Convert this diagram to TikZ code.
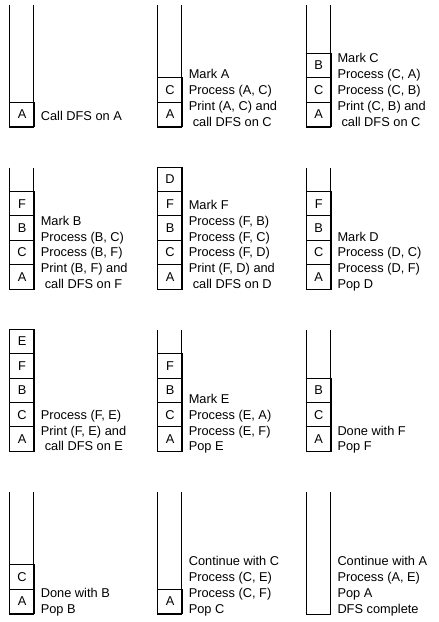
\documentclass[tikz,border=0pt]{standalone}
\usepackage{fontspec}
\setmainfont{Liberation Sans}
\newcommand\notefont{\fontsize{12.8}{15.8}\selectfont}
\newcommand\notelines[1]{\begin{tabular}[b]{@{}l@{}}#1\end{tabular}}
\newcommand\ind{\hspace*{4pt}}
\tikzset{
  stackline/.style={line width=1pt, line join=miter},
  cell/.style={draw, line width=1pt, minimum width=24.5pt, minimum height=24.4pt,
    inner sep=0pt, anchor=south west, font=\notefont},
  note/.style={inner sep=0pt, anchor=base west, font=\notefont},
}
% #1 name, #2 left x, #3 bottom y
\newcommand\dfsframe[3]{%
  \coordinate (#1-tl) at (#2,#3-122);
  \coordinate (#1-bl) at (#2,#3);
  \coordinate (#1-br) at (#2+24.5,#3);
  \coordinate (#1-tr) at (#2+24.5,#3-122);
  \draw[stackline] (#1-tl) -- (#1-bl) -- (#1-br) -- (#1-tr);
}
% #1 name, #2 left x, #3 bottom y, #4 letters (bottom first)
\newcommand\dfsstack[4]{%
  \dfsframe{#1}{#2}{#3}
  \foreach \L [count=\i from 0] in {#4} {
    \node[cell] (#1-c\i) at (#2,#3-\i*24.4) {\L};
  }
}
\begin{document}
\begin{tikzpicture}[x=1pt,y=-1pt]
\useasboundingbox (0,0) rectangle (439,622);
% ---------- row 1 ----------
\dfsstack{s11}{9.3}{127}{A}
\node[note] (t11) at (40.6,120.5) {\notelines{Call DFS on A}};
\dfsstack{s12}{157.3}{127}{A,C}
\node[note] (t12) at (188.6,126) {\notelines{Mark A\\Process (A, C)\\Print (A, C) and\\\ind call DFS on C}};
\dfsstack{s13}{306}{127}{A,C,B}
\node[note] (t13) at (337.3,126) {\notelines{Mark C\\Process (C, A)\\Process (C, B)\\Print (C, B) and\\\ind call DFS on C}};
% ---------- row 2 ----------
\dfsstack{s21}{9.3}{289.5}{A,C,B,F}
\node[note] (t21) at (40.6,288.5) {\notelines{Mark B\\Process (B, C)\\Process (B, F)\\Print (B, F) and\\\ind call DFS on F}};
\dfsstack{s22}{157.3}{289.5}{A,C,B,F,D}
\node[note] (t22) at (188.6,288.5) {\notelines{Mark F\\Process (F, B)\\Process (F, C)\\Process (F, D)\\Print (F, D) and\\\ind call DFS on D}};
\dfsstack{s23}{306}{289.5}{A,C,B,F}
\node[note] (t23) at (337.3,288.5) {\notelines{Mark D\\Process (D, C)\\Process (D, F)\\Pop D}};
% ---------- row 3 ----------
\dfsstack{s31}{9.3}{451.8}{A,C,B,F,E}
\node[note] (t31) at (40.6,450.8) {\notelines{Process (F, E)\\Print (F, E) and\\\ind call DFS on E}};
\dfsstack{s32}{157.3}{451.8}{A,C,B,F}
\node[note] (t32) at (188.6,450.8) {\notelines{Mark E\\Process (E, A)\\Process (E, F)\\Pop E}};
\dfsstack{s33}{306}{451.8}{A,C,B}
\node[note] (t33) at (337.3,450.8) {\notelines{Done with F\\Pop F}};
% ---------- row 4 ----------
\dfsstack{s41}{9.3}{614}{A,C}
\node[note] (t41) at (40.6,613) {\notelines{Done with B\\Pop B}};
\dfsstack{s42}{157.3}{614}{A}
\node[note] (t42) at (188.6,613) {\notelines{Continue with C\\Process (C, E)\\Process (C, F)\\Pop C}};
\dfsframe{s43}{306}{614}
\node[note] (t43) at (337.3,613) {\notelines{Continue with A\\Process (A, E)\\Pop A\\DFS complete}};
\end{tikzpicture}
\end{document}
